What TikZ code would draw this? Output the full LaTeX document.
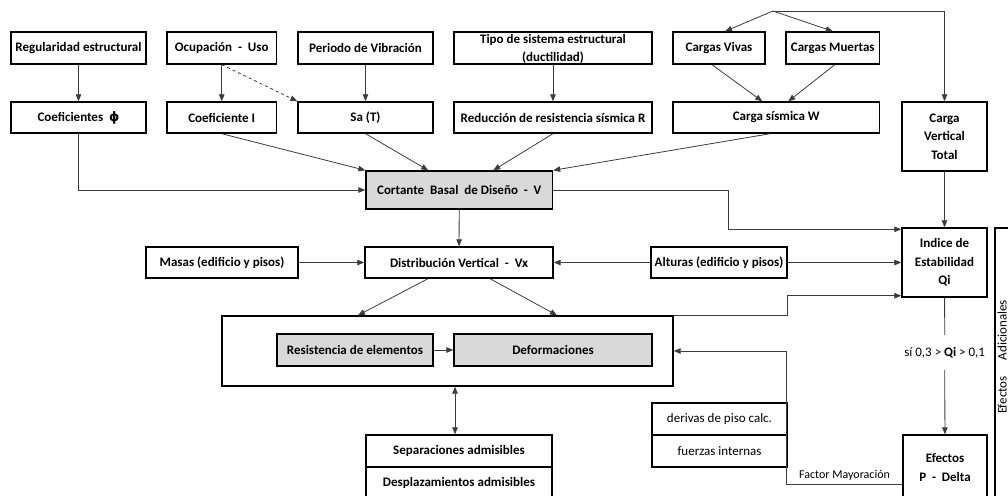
\documentclass[tikz,border=0pt]{standalone}
\usepackage{fontspec}
\setmainfont{Carlito}
\newfontfamily\pdsym{DejaVu Sans}
\definecolor{pdgray}{RGB}{217,217,217}
\definecolor{pdline}{RGB}{60,60,60}
\usetikzlibrary{arrows.meta,positioning,calc}

\begin{document}
\begin{tikzpicture}[x=1pt,y=-1pt,
  pdbox/.style={draw,line width=1.4pt,minimum height=32pt,inner sep=1pt,
    align=center,font=\fontsize{13}{18.6}\selectfont\bfseries},
  pdgris/.style={pdbox,fill=pdgray},
  pdplain/.style={pdbox,font=\fontsize{13}{18.6}\selectfont},
  pdarrow/.style={-{Triangle[length=7pt,width=5.5pt]},line width=0.8pt,pdline},
  pdboth/.style={{Triangle[length=7pt,width=5.5pt]}-{Triangle[length=7pt,width=5.5pt]},
    line width=0.8pt,pdline}
]
  \path[use as bounding box,clip] (0,0) rectangle (1008,495);

  % Datos de entrada
  \node[pdbox,minimum width=135pt] (reg) at (78.5,48) {Regularidad estructural};
  \node[pdbox,minimum width=109.5pt] (ocu) at (221.75,48) {Ocupación\ \ -\ \ Uso};
  \node[pdbox,minimum width=135pt] (per) at (365.5,48) {Periodo de Vibración};
  \node[pdbox,minimum width=198pt,inner ysep=0pt,text depth=-3pt] (tipo) at (553,48) {Tipo de sistema estructural\\(ductilidad)};
  \node[pdbox,minimum width=92pt] (vivas) at (719,48) {Cargas Vivas};
  \node[pdbox,minimum width=93.5pt] (muertas) at (832.75,48) {Cargas Muertas};

  % Coeficientes
  \node[pdbox,minimum width=135pt,minimum height=31pt] (coefphi) at (78.5,117.5) {Coeficientes\ \ {\pdsym\bfseries ϕ}};
  \node[pdbox,minimum width=109.5pt,minimum height=31pt] (coefI) at (221.75,117.5) {Coeficiente I};
  \node[pdbox,minimum width=135pt,minimum height=31pt] (sat) at (365.5,117.5) {Sa (T)};
  \node[pdbox,minimum width=198pt,minimum height=31pt] (red) at (553,117.5) {Reducción de resistencia sísmica R};
  \node[pdbox,minimum width=206.5pt,minimum height=31pt] (cargaW) at (776.25,117.5) {Carga sísmica W};
  \node[pdbox,minimum width=85pt,minimum height=69pt] (cvt) at (944.5,136.5) {Carga\\Vertical\\Total};

  % Cortante basal
  \node[pdgris,minimum width=186.5pt,minimum height=38pt] (cortante) at (459.25,190) {Cortante\ \ Basal\ \ de Diseño\ \ -\ \ V};

  % Distribucion
  \node[pdbox,minimum width=152pt,minimum height=31pt] (masas) at (222,262.5) {Masas (edificio y pisos)};
  \node[pdbox,minimum width=188pt,minimum height=31pt] (distrib) at (459,262.5) {Distribución Vertical\ \ -\ \ Vx};
  \node[pdbox,minimum width=136pt,minimum height=31pt] (alturas) at (719,262.5) {Alturas (edificio y pisos)};
  \node[pdbox,minimum width=85pt,minimum height=69pt] (indice) at (944.5,262.5) {Indice de\\Estabilidad\\Qi};

  % Analisis
  \node[pdbox,minimum width=451pt,minimum height=70pt] (marco) at (447.5,351) {};
  \node[pdgris,minimum width=156pt] (resis) at (355,350) {Resistencia de elementos};
  \node[pdgris,minimum width=198pt] (deform) at (553,350) {Deformaciones};

  % Resultados
  \node[pdbox,minimum width=186pt] (sep) at (459,451) {Separaciones admisibles};
  \node[pdbox,minimum width=186pt] (desp) at (459,483) {Desplazamientos admisibles};
  \node[pdplain,minimum width=135pt] (deriv) at (719.5,419) {derivas de piso calc.};
  \node[pdplain,minimum width=135pt] (fuerzas) at (719.5,451) {fuerzas internas};
  \node[pdbox,minimum width=84pt,minimum height=65pt] (pdelta) at (945,467.5) {Efectos\\P\ \ -\ \ Delta};
  \node[draw,line width=1.4pt,minimum width=40pt,minimum height=300pt] (efadic) at (1015,378) {};
  \node[rotate=90,anchor=south,inner sep=0.5pt,font=\fontsize{13}{15}\selectfont] (efadictxt)
    at (1007.5,357) {Efectos\hspace{16pt}Adicionales};

  % Flechas superiores
  \coordinate (raiz) at (773,11);
  \draw[pdarrow] (raiz) -- ([xshift=6pt]vivas.north);
  \draw[pdarrow] (raiz) -- (muertas.north);
  \draw[pdarrow] (raiz) -| (cvt.north);
  \draw[pdarrow] (reg) -- (coefphi);
  \draw[pdarrow] (ocu) -- (coefI);
  \draw[pdarrow,dashed] (ocu.south) -- (sat.north west);
  \draw[pdarrow] (per) -- (sat);
  \draw[pdarrow] (tipo) -- (red);
  \draw[pdarrow] ([xshift=-7pt]vivas.south) -- ([xshift=-14pt]cargaW.north);
  \draw[pdarrow] ([xshift=2pt]muertas.south) -- ([xshift=12pt]cargaW.north);

  % Hacia el cortante
  \draw[pdarrow] (coefphi.south) |- (cortante.west);
  \draw[pdarrow] (coefI.south) -- (cortante.north west);
  \draw[pdarrow] (sat.south) -- ([xshift=-31pt]cortante.north);
  \draw[pdarrow] (red.south) -- ([xshift=34pt]cortante.north);
  \draw[pdarrow] ([xshift=-6pt]cargaW.south) -- (cortante.north east);

  % Estabilidad
  \draw[pdarrow] (cortante.east) -- ++(175,0) |- ([yshift=-2pt]indice.north west);
  \draw[pdarrow] (cvt) -- (indice);
  \draw[pdarrow] (cortante) -- (distrib);
  \draw[pdarrow] (masas) -- (distrib);
  \draw[pdarrow] (alturas) -- (distrib);
  \draw[pdarrow] (alturas) -- (indice);
  \draw[pdarrow] ([xshift=-31pt]distrib.south) -- ([xshift=-89.5pt]marco.north);
  \draw[pdarrow] ([xshift=31pt]distrib.south) -- ([xshift=109.5pt]marco.north);
  \draw[pdarrow] (marco.north east) -- ++(114,0) |- ([yshift=2pt]indice.south west);
  \draw[pdarrow] (resis) -- (deform);
  \draw[pdboth] ([xshift=-4pt]sep.north |- marco.south) -- ([xshift=-4pt]sep.north);
  \draw[pdarrow] (indice) -- node[pos=0.4,fill=white,inner xsep=0pt,inner ysep=12pt,
    font=\fontsize{13}{15}\selectfont,text=black] {sí 0,3 > \textbf{Qi} > 0,1} (pdelta);
  \draw[pdarrow] ([yshift=-16.5pt]pdelta.west) -- node[above,text=black,
    font=\fontsize{12}{14}\selectfont] {Factor Mayoración} ++(-115.5,0) |- (marco.east);
\end{tikzpicture}
\end{document}
